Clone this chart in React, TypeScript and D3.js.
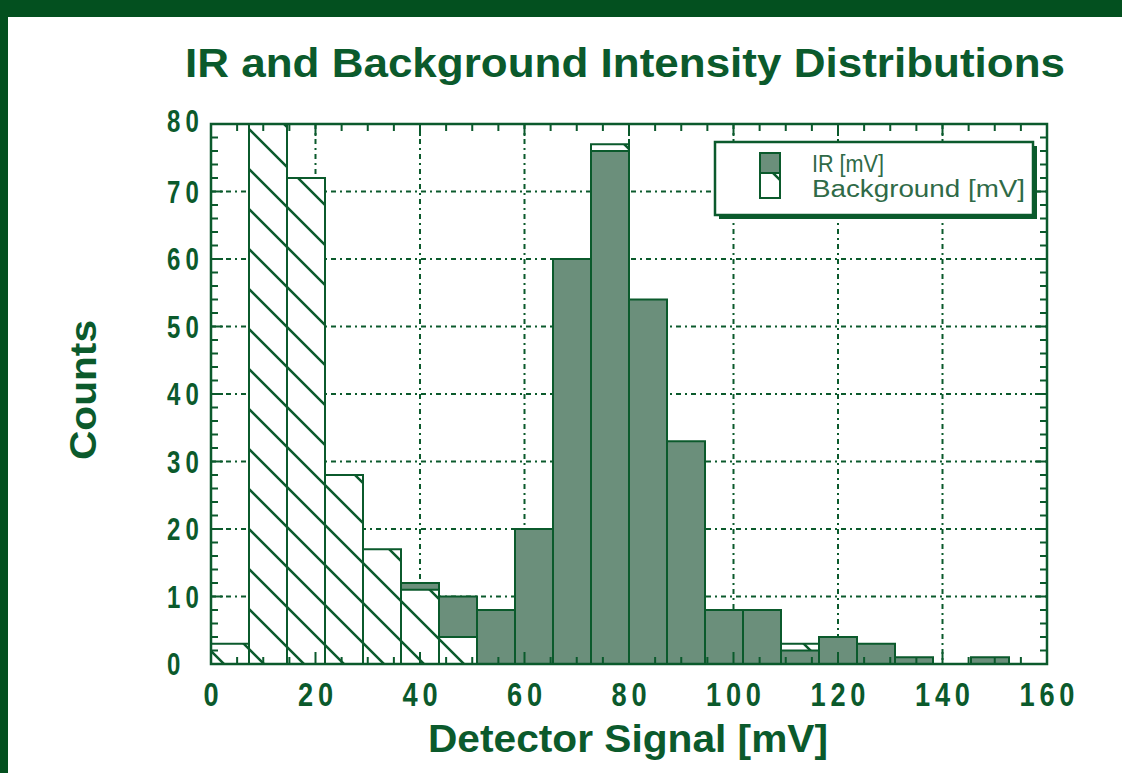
import React, { useEffect, useRef } from "react";
import * as d3 from "d3";

// histogram counts per bin (22 equal bins over 0-160 mV)
const binEdgesMax = 160;
const binCount = 22;
const irCounts = [0, 0, 0, 0, 0, 12, 10, 8, 20, 60, 76, 54, 33, 8, 8, 2, 4, 3, 1, 0, 1, 0];
const bgCounts = [3, 80, 72, 28, 17, 11, 4, 0, 0, 0, 77, 0, 0, 0, 0, 3, 0, 0, 0, 0, 0, 0];

const xTicks = [0, 20, 40, 60, 80, 100, 120, 140, 160];
const yTicks = [0, 10, 20, 30, 40, 50, 60, 70, 80];
const legendLabels = ["IR [mV]", "Background [mV]"];

const GREEN = "#0b5a2c";
const FRAME = "#03501f";
const IR_FILL = "#6b8f7b";
const FONT = "'Liberation Sans', Arial, Helvetica, sans-serif";

export default function App() {
  const ref = useRef<HTMLDivElement>(null);

  useEffect(() => {
    const root = d3.select(ref.current);
    root.selectAll("*").remove();

    const W = 1122, H = 773;
    const svg = root.append("svg").attr("width", W).attr("height", H)
      .style("position", "absolute").style("left", 0).style("top", 0)
      .style("background", "#fff");

    // hatch for background bars
    const defs = svg.append("defs");
    const pat = defs.append("pattern").attr("id", "hatch")
      .attr("patternUnits", "userSpaceOnUse").attr("width", 40).attr("height", 40);
    pat.append("rect").attr("width", 40).attr("height", 40).attr("fill", "#fff");
    pat.append("path").attr("d", "M0,0L40,40M-10,30L10,50M30,-10L50,10")
      .attr("stroke", GREEN).attr("stroke-width", 2.5);

    // green frame
    svg.append("rect").attr("x", 0).attr("y", 0).attr("width", W).attr("height", 17).attr("fill", FRAME);
    svg.append("rect").attr("x", 0).attr("y", 0).attr("width", 8).attr("height", H).attr("fill", FRAME);

    const L = 211, R = 1047, T = 124, B = 664;
    const x = d3.scaleLinear().domain([0, binEdgesMax]).range([L, R]);
    const y = d3.scaleLinear().domain([0, 80]).range([B, T]);
    const bw = binEdgesMax / binCount;

    //grid
    const grid = svg.append("g").attr("stroke", GREEN).attr("stroke-width", 2)
      .attr("stroke-dasharray", "5,4,2,4");
    grid.selectAll(".gx").data(xTicks.slice(1, -1)).join("line")
      .attr("x1", d => x(d)).attr("x2", d => x(d)).attr("y1", T).attr("y2", B);
    grid.selectAll(".gy").data(yTicks.slice(1, -1)).join("line")
      .attr("y1", d => y(d)).attr("y2", d => y(d)).attr("x1", L).attr("x2", R);

    // bars: taller series behind, shorter in front
    const bins = d3.range(binCount).map(i => ({ i, ir: irCounts[i], bg: bgCounts[i] }));
    const layer = (pick: (d: any) => { v: number; s: string }) => bins.map(d => ({ i: d.i, ...pick(d) })).filter(d => d.v > 0);
    const back = layer(d => d.ir >= d.bg ? { v: d.ir, s: "ir" } : { v: d.bg, s: "bg" });
    const front = layer(d => d.ir >= d.bg ? { v: d.bg, s: "bg" } : { v: d.ir, s: "ir" });

    const drawBars = (data: any[]) => {
      svg.append("g").selectAll("rect").data(data).join("rect")
        .attr("x", d => x(d.i * bw)).attr("width", x(bw) - x(0))
        .attr("y", d => y(d.v)).attr("height", d => B - y(d.v))
        .attr("fill", d => d.s === "ir" ? IR_FILL : "url(#hatch)")
        .attr("stroke", GREEN).attr("stroke-width", 2);
    };
    drawBars(back);
    drawBars(front);

    // axes frame + inward ticks
    const ax = svg.append("g").attr("stroke", GREEN).attr("stroke-width", 2);
    d3.range(5, 160, 5).forEach(v => {
      const len = v % 20 === 0 ? 12 : 7;
      ax.append("line").attr("x1", x(v)).attr("x2", x(v)).attr("y1", B).attr("y2", B - len);
      ax.append("line").attr("x1", x(v)).attr("x2", x(v)).attr("y1", T).attr("y2", T + len);
    });
    d3.range(2, 80, 2).forEach(v => {
      const len = v % 10 === 0 ? 12 : 7;
      ax.append("line").attr("y1", y(v)).attr("y2", y(v)).attr("x1", L).attr("x2", L + len);
      ax.append("line").attr("y1", y(v)).attr("y2", y(v)).attr("x1", R).attr("x2", R - len);
    });
    ax.append("rect").attr("x", L).attr("y", T).attr("width", R - L).attr("height", B - T)
      .attr("fill", "none").attr("stroke-width", 2.5);

    const txt = svg.append("g").attr("fill", GREEN).attr("font-family", FONT).attr("font-weight", "bold");

    // tick labels (narrow glyphs, wide spacing)
    txt.selectAll(".xl").data(xTicks).join("text")
      .attr("transform", d => `translate(${x(d)},706) scale(0.8,1)`)
      .attr("text-anchor", "middle")
      .attr("font-size", 34).attr("letter-spacing", 6)
      .attr("dx", 3)
      .text(d => d);
    txt.selectAll(".yl").data(yTicks).join("text")
      .attr("transform", d => `translate(167,${y(d) + 11 - (d === 80 ? 3 : 0)}) scale(0.75,1)`)
      .attr("text-anchor", "start")
      .attr("font-size", 32).attr("letter-spacing", 7)
      .text(d => d);

    // titles
    txt.append("text").attr("x", 625).attr("y", 77).attr("text-anchor", "middle")
      .attr("font-size", 41).attr("textLength", 880).attr("lengthAdjust", "spacingAndGlyphs")
      .text("IR and Background Intensity Distributions");
    txt.append("text").attr("x", 628).attr("y", 752).attr("text-anchor", "middle")
      .attr("font-size", 38).attr("textLength", 400).attr("lengthAdjust", "spacingAndGlyphs")
      .text("Detector Signal [mV]");
    txt.append("text").attr("transform", "translate(96,390) rotate(-90)").attr("text-anchor", "middle")
      .attr("font-size", 36).attr("textLength", 140).attr("lengthAdjust", "spacingAndGlyphs")
      .text("Counts");

    // legend
    const lg = svg.append("g");
    lg.append("rect").attr("x", 719).attr("y", 146).attr("width", 318).attr("height", 73).attr("fill", GREEN);
    lg.append("rect").attr("x", 715).attr("y", 142).attr("width", 318).attr("height", 73)
      .attr("fill", "#fff").attr("stroke", GREEN).attr("stroke-width", 2.5);
    lg.append("rect").attr("x", 760).attr("y", 153).attr("width", 20).attr("height", 20)
      .attr("fill", IR_FILL).attr("stroke", GREEN).attr("stroke-width", 2);
    lg.append("rect").attr("x", 760).attr("y", 173).attr("width", 20).attr("height", 25)
      .attr("fill", "url(#hatch)").attr("stroke", GREEN).attr("stroke-width", 2);
    lg.selectAll(".lt").data(legendLabels).join("text")
      .attr("x", 812).attr("y", (d, i) => 172 + i * 25)
      .attr("font-family", FONT).attr("font-size", 23).attr("fill", "#2f6a47")
      .attr("textLength", (d, i) => i === 0 ? 72 : 213).attr("lengthAdjust", "spacingAndGlyphs")
      .text(d => d);
  }, []);

  return <div ref={ref} style={{ width: 1122, height: 773 }}></div>;
}
